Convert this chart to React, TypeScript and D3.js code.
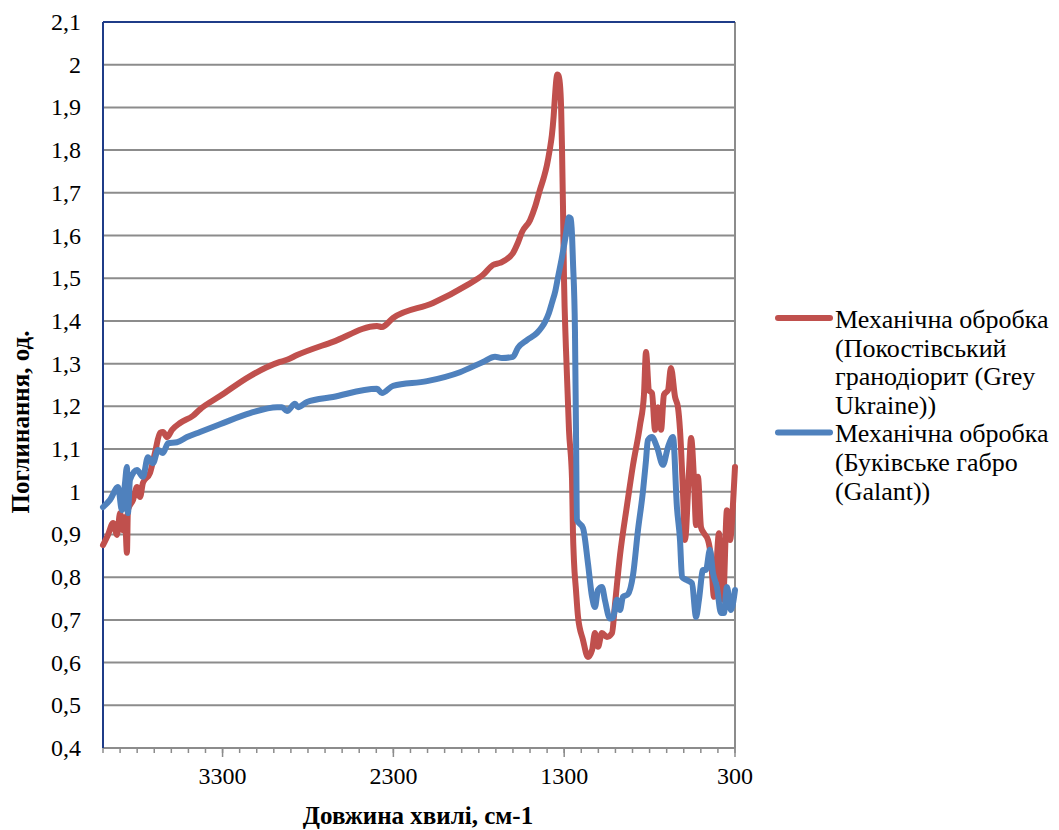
import React, { useEffect, useRef } from "react";
import * as d3 from "d3";

// Wavenumber (cm-1) / absorbance pairs for each sample
const graniteSeries: [number, number][] = [
  [4000, 0.875], [3971, 0.899], [3941, 0.927], [3918, 0.899], [3900, 0.95], [3883, 0.91],
  [3871, 0.941], [3860, 0.857], [3854, 0.957], [3824, 0.981], [3801, 1.011], [3783, 0.988],
  [3766, 1.021], [3725, 1.044], [3696, 1.091], [3666, 1.138], [3649, 1.14], [3625, 1.128],
  [3596, 1.145], [3549, 1.161], [3473, 1.178], [3432, 1.193], [3315, 1.224], [3139, 1.271],
  [2964, 1.304], [2923, 1.309], [2864, 1.32], [2654, 1.351], [2396, 1.388], [2367, 1.386],
  [2302, 1.407], [2068, 1.442], [1869, 1.484], [1775, 1.508], [1717, 1.531], [1676, 1.536],
  [1600, 1.559], [1571, 1.583], [1547, 1.608], [1500, 1.636], [1470, 1.668], [1442, 1.707],
  [1420, 1.735], [1401, 1.765], [1385, 1.8], [1372, 1.835], [1362, 1.878], [1354, 1.925],
  [1346, 1.965], [1340, 1.977], [1334, 1.975], [1325, 1.955], [1318, 1.9], [1313, 1.81],
  [1307, 1.667], [1301, 1.496], [1290, 1.339], [1272, 1.145], [1254, 1.028], [1249, 0.91],
  [1243, 0.84], [1231, 0.77], [1219, 0.707], [1190, 0.653], [1161, 0.613], [1137, 0.629],
  [1120, 0.669], [1102, 0.637], [1079, 0.669], [1050, 0.66], [1020, 0.669], [1003, 0.735],
  [973, 0.852], [932, 0.969], [897, 1.063], [856, 1.156], [833, 1.227], [821, 1.327],
  [804, 1.238], [786, 1.231], [768, 1.145], [751, 1.198], [733, 1.145], [716, 1.227],
  [692, 1.238], [675, 1.29], [651, 1.222], [634, 1.198], [622, 1.145], [605, 1.004],
  [593, 0.887], [569, 1.051], [557, 1.126], [540, 1.028], [528, 0.922], [517, 1.035],
  [499, 0.917], [482, 0.903], [458, 0.887], [441, 0.847], [423, 0.754], [411, 0.81],
  [394, 0.903], [382, 0.81], [370, 0.747], [347, 0.957], [329, 0.887], [312, 0.969],
  [300, 1.058],
];

const gabbroSeries: [number, number][] = [
  [4000, 0.964], [3959, 0.981], [3912, 1.011], [3889, 0.957], [3871, 1.021], [3860, 1.058],
  [3854, 0.95], [3842, 1.028], [3801, 1.051], [3766, 1.035], [3737, 1.081], [3707, 1.067],
  [3678, 1.098], [3649, 1.091], [3619, 1.114], [3567, 1.116], [3508, 1.128], [3432, 1.14],
  [3315, 1.158], [3139, 1.184], [2981, 1.198], [2952, 1.198], [2923, 1.189], [2876, 1.206],
  [2858, 1.198], [2806, 1.21], [2654, 1.222], [2396, 1.241], [2367, 1.231], [2302, 1.248],
  [2103, 1.259], [1910, 1.28], [1775, 1.304], [1705, 1.316], [1664, 1.313], [1600, 1.316],
  [1571, 1.337], [1518, 1.355], [1459, 1.372], [1430, 1.386], [1412, 1.398], [1390, 1.418],
  [1372, 1.442], [1352, 1.47], [1336, 1.503], [1315, 1.545], [1295, 1.59], [1282, 1.622],
  [1272, 1.643], [1262, 1.64], [1254, 1.6], [1249, 1.543], [1237, 1.379], [1231, 1.145],
  [1225, 0.934], [1190, 0.915], [1161, 0.833], [1137, 0.754], [1120, 0.73], [1102, 0.77],
  [1079, 0.777], [1061, 0.745], [1032, 0.703], [1014, 0.705], [991, 0.747], [973, 0.723],
  [956, 0.754], [927, 0.76], [897, 0.805], [868, 0.91], [838, 1.004], [821, 1.074],
  [810, 1.121], [786, 1.128], [757, 1.105], [722, 1.063], [692, 1.105], [663, 1.128],
  [640, 0.964], [622, 0.887], [610, 0.8], [581, 0.793], [552, 0.786], [528, 0.707],
  [511, 0.747], [487, 0.817], [470, 0.817], [447, 0.864], [429, 0.81], [406, 0.777],
  [382, 0.716], [365, 0.716], [347, 0.777], [324, 0.723], [300, 0.77],
];

const majorWavenumbers = [3300, 2300, 1300, 300];
const minorWavenumbers = d3.range(300, 4001, 100);
const absorbanceTicks = d3.range(4, 22).map((k) => k / 10);

const seriesLabels = [
  ["Механічна обробка", "(Покостівський", "гранодіорит (Grey", "Ukraine))"],
  ["Механічна обробка", "(Буківське габро", "(Galant))"],
];
const seriesColors = ["#C0504D", "#4F81BD"];

const xTitle = "Довжина хвилі, см-1";
const yTitle = "Поглинання, од.";

const SERIF = '"Liberation Serif", "Times New Roman", serif';

const W = 1059;
const H = 830;
const left = 103;
const right = 735;
const top = 22;
const bottom = 748;

export default function App() {
  const ref = useRef<SVGSVGElement | null>(null);

  useEffect(() => {
    if (!ref.current) return;
    const svg = d3.select(ref.current);
    svg.selectAll("*").remove();

    const x = d3.scaleLinear().domain([4000, 300]).range([left, right]);
    const y = d3.scaleLinear().domain([0.4, 2.1]).range([bottom, top]);
    const fmt = (v: number) => String(+v.toFixed(1)).replace(".", ",");

    // gridlines
    svg
      .append("g")
      .selectAll("line")
      .data(absorbanceTicks.slice(1, -1))
      .join("line")
      .attr("x1", left)
      .attr("x2", right)
      .attr("y1", (d) => y(d))
      .attr("y2", (d) => y(d))
      .attr("stroke", "#8c8c8c")
      .attr("stroke-width", 2);

    // plot frame
    const frame = [
      { x1: right, y1: top, x2: right, y2: bottom, c: "#8c8c8c" },
      { x1: left, y1: bottom, x2: right, y2: bottom, c: "#8c8c8c" },
      { x1: left, y1: top, x2: right, y2: top, c: "#1f3c88" },
      { x1: left, y1: top, x2: left, y2: bottom, c: "#1f3c88" },
    ];
    svg
      .append("g")
      .selectAll("line")
      .data(frame)
      .join("line")
      .attr("x1", (d) => d.x1)
      .attr("y1", (d) => d.y1)
      .attr("x2", (d) => d.x2)
      .attr("y2", (d) => d.y2)
      .attr("stroke", (d) => d.c)
      .attr("stroke-width", 2);

    // x tick marks
    const ticks = svg.append("g").attr("stroke", "#8c8c8c").attr("stroke-width", 1.5);
    ticks
      .selectAll("line.minor")
      .data(minorWavenumbers)
      .join("line")
      .attr("class", "minor")
      .attr("x1", (d) => x(d))
      .attr("x2", (d) => x(d))
      .attr("y1", bottom)
      .attr("y2", bottom + 5);
    ticks
      .selectAll("line.major")
      .data(majorWavenumbers)
      .join("line")
      .attr("class", "major")
      .attr("x1", (d) => x(d))
      .attr("x2", (d) => x(d))
      .attr("y1", bottom)
      .attr("y2", bottom + 9);

    const labels = svg.append("g").attr("font-family", SERIF).attr("fill", "#000");

    labels
      .selectAll("text.xl")
      .data(majorWavenumbers)
      .join("text")
      .attr("class", "xl")
      .attr("x", (d) => x(d))
      .attr("y", 784)
      .attr("text-anchor", "middle")
      .attr("font-size", 24)
      .style("font-family", SERIF)
      .text((d) => String(d));

    labels
      .selectAll("text.yl")
      .data(absorbanceTicks)
      .join("text")
      .attr("class", "yl")
      .attr("x", 81)
      .attr("y", (d) => y(d) + 8)
      .attr("text-anchor", "end")
      .attr("font-size", 24)
      .style("font-family", SERIF)
      .text((d) => fmt(d));

    // series
    const line = d3
      .line<[number, number]>()
      .x((d) => x(d[0]))
      .y((d) => y(d[1]))
      .curve(d3.curveMonotoneX);

    svg
      .append("g")
      .selectAll("path")
      .data([graniteSeries, gabbroSeries])
      .join("path")
      .attr("d", (d) => line(d) || "")
      .attr("fill", "none")
      .attr("stroke", (_d, i) => seriesColors[i])
      .attr("stroke-width", 6)
      .attr("stroke-linejoin", "round")
      .attr("stroke-linecap", "round");

    // axis titles
    labels
      .append("text")
      .attr("x", 418)
      .attr("y", 824)
      .attr("text-anchor", "middle")
      .attr("font-size", 25)
      .attr("font-weight", "bold")
      .style("font-family", SERIF)
      .text(xTitle);

    labels
      .append("text")
      .attr("transform", "translate(29, 422) rotate(-90)")
      .attr("text-anchor", "middle")
      .attr("font-size", 25)
      .attr("font-weight", "bold")
      .style("font-family", SERIF)
      .text(yTitle);

    // legend
    const legendTop = 318;
    const lineGap = 28.6;
    seriesLabels.forEach((rows, i) => {
      const y0 = i === 0 ? legendTop : legendTop + lineGap * 4;
      const g = svg.append("g");
      g.append("line")
        .attr("x1", 778)
        .attr("x2", 830)
        .attr("y1", y0)
        .attr("y2", y0)
        .attr("stroke", seriesColors[i])
        .attr("stroke-width", 6)
        .attr("stroke-linecap", "round");
      g.selectAll("text")
        .data(rows)
        .join("text")
        .attr("x", 835)
        .attr("y", (_d, j) => y0 + 10 + j * lineGap)
        .attr("font-size", 26)
        .attr("fill", "#000")
        .style("font-family", SERIF)
        .text((d) => d);
    });
  }, []);

  return (
    <svg
      ref={ref}
      width={W}
      height={H}
      style={{ position: "absolute", left: 0, top: 0, fontFamily: SERIF }}
    />
  );
}
